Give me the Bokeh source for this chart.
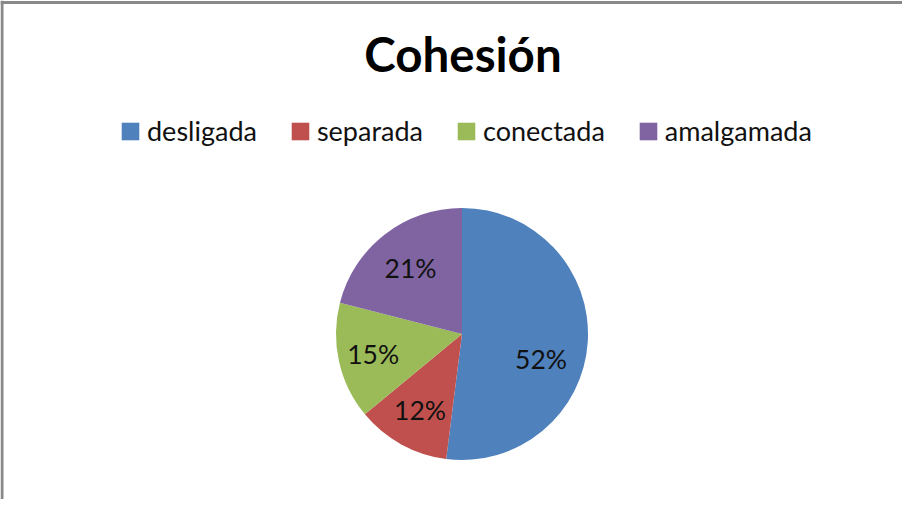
import numpy as np
from bokeh.plotting import figure
from bokeh.models import Range1d, Span, Legend, LegendItem, ColumnDataSource, Label
from bokeh.core.properties import value
from bokeh.embed import file_html
from bokeh.resources import INLINE

# ---- data ----
categories = ["desligada", "separada", "conectada", "amalgamada"]
percents = [52, 12, 15, 21]
pct_labels = ["52%", "12%", "15%", "21%"]
colors = ["#4F81BD", "#C0504D", "#9BBB59", "#8064A2"]
title_text = "Cohesión"

# ---- style / layout ----
W, H = 902, 499
CX, CY = 461.5, H - 333.5   # pie centre (pixel-like data units)
R = 126
label_r = [83, 87, 91, 84]
label_angle_shift_deg = [-14, 0, 0, 0]
FONT = "Lato"

p = figure(width=W, height=H, x_range=Range1d(0, W), y_range=Range1d(0, H),
           output_backend="svg", toolbar_location=None,
           x_axis_type=None, y_axis_type=None, min_border=0)
p.grid.visible = False
p.outline_line_color = None
p.background_fill_color = "white"
p.border_fill_color = "white"

vals = np.array(percents, dtype=float)
frac = vals / vals.sum()
cum = np.concatenate([[0.0], np.cumsum(frac)])
start = np.pi / 2 - 2 * np.pi * cum[:-1]
end = np.pi / 2 - 2 * np.pi * cum[1:]
mid = (start + end) / 2 + np.radians(label_angle_shift_deg)
lr = np.array(label_r, dtype=float)

src = ColumnDataSource(dict(
    cat=categories, start=start, end=end, color=colors,
    x=[CX] * len(categories), y=[CY] * len(categories),
    lx=CX + lr * np.cos(mid), ly=CY + lr * np.sin(mid),
    lab=pct_labels,
))

r = p.wedge(x="x", y="y", radius=R, start_angle="start", end_angle="end",
            direction="clock", fill_color="color", line_color=None, source=src)

p.text(x="lx", y="ly", text="lab", source=src, text_align="center",
       text_baseline="middle", text_font=value(FONT),
       text_font_size=value("26.5px"), text_color="#111111")

items = [LegendItem(label=c, renderers=[r], index=i) for i, c in enumerate(categories)]
legend = Legend(items=items, orientation="horizontal", location=(119, 352),
                glyph_width=22, glyph_height=22, label_standoff=6, spacing=32,
                padding=0, margin=0, border_line_color=None,
                background_fill_alpha=0, label_text_font=FONT,
                label_text_font_size="27px", label_text_color="#111111")
p.add_layout(legend, "center")

p.add_layout(Label(x=462.5, y=H - 72.7 + 20, text=title_text, text_align="center",
                   text_baseline="alphabetic", text_font=FONT, text_font_style="bold",
                   text_font_size="47.5px", text_color="#000000"))

p.add_layout(Span(location=1.5, dimension="height", line_color="#898989", line_width=3))
p.add_layout(Span(location=H - 2, dimension="width", line_color="#898989", line_width=3))

open("out.html", "w").write(file_html(p, INLINE))
